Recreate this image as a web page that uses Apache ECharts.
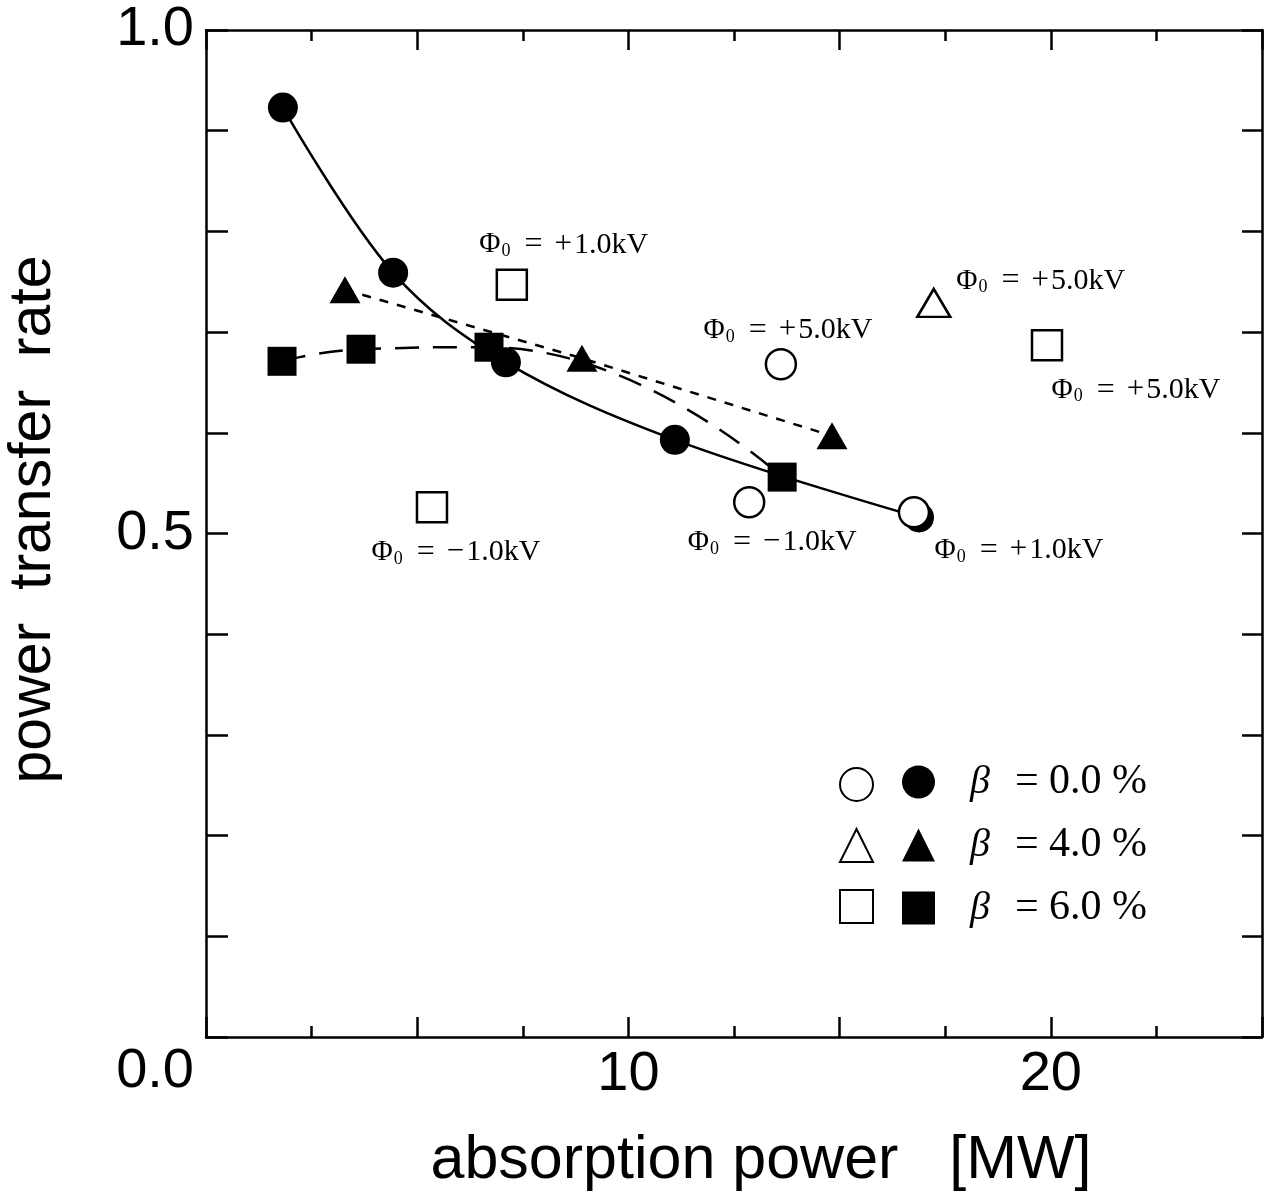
<!DOCTYPE html>
<html><head><meta charset="utf-8">
<script src="https://cdn.jsdelivr.net/npm/echarts@6/dist/echarts.min.js"></script>
<style>html,body{margin:0;padding:0;background:#fff}#c{width:1278px;height:1198px}</style>
</head><body><div id="c"></div>
<script>
// ---------- data ----------
const xTitle = 'absorption power   [MW]';
const yTitle = 'power  transfer  rate';
const xLabelValues = [10, 20];
const xLabelTexts = ['10', '20'];
const yLabelValues = [0, 0.5, 1.0];
const yLabelTexts = ['0.0', '0.5', '1.0'];

const groupNames = ['β = 0.0 %', 'β = 4.0 %', 'β = 6.0 %'];
const groupBeta = ['0.0', '4.0', '6.0'];

const fill0X = [1.82, 4.43, 7.10, 11.10, 16.88];
const fill0Y = [0.923, 0.759, 0.670, 0.593, 0.516];
const fill4X = [3.29, 8.90, 14.82];
const fill4Y = [0.742, 0.674, 0.597];
const fill6X = [1.80, 3.67, 6.70, 13.64];
const fill6Y = [0.671, 0.683, 0.685, 0.556];

const open0X = [13.61, 12.86, 16.76];
const open0Y = [0.668, 0.531, 0.521];
const open0Phi = ['+5.0', '−1.0', '+1.0'];
const open4X = [17.23];
const open4Y = [0.729];
const open4Phi = ['+5.0'];
const open6X = [7.24, 5.35, 19.91];
const open6Y = [0.747, 0.526, 0.687];
const open6Phi = ['+1.0', '−1.0', '+5.0'];

// ---------- layout / style ----------
const open0Off = [[7, -34], [23, 40], [105, 38]];
const open4Off = [[107, -22]];
const open6Off = [[52, -40], [24, 45], [89, 45]];

const SANS = '"Liberation Sans", Arial, sans-serif';
const SERIF = '"Liberation Serif", "Times New Roman", serif';
const BLACK = '#000';

const zip = (xs, ys) => xs.map((x, i) => [x, ys[i]]);
const near = (a, b) => Math.abs(a - b) < 1e-6;

const annRich = {
  p: { fontFamily: SERIF, fontSize: 29, color: BLACK, lineHeight: 32 },
  s: { fontFamily: SERIF, fontSize: 18, color: BLACK, padding: [13, 0, 0, 1], lineHeight: 32 },
  e: { fontFamily: SERIF, fontSize: 32, color: BLACK, padding: [0, 12, 0, 14], lineHeight: 32 },
  t: { fontFamily: SERIF, fontSize: 31, color: BLACK, padding: [0, 2, 0, 0], lineHeight: 32 },
  u: { fontFamily: SERIF, fontSize: 30, color: BLACK, lineHeight: 32 }
};

function openData(xs, ys, phis, offs) {
  return xs.map((x, i) => ({
    value: [x, ys[i]],
    phi: phis[i],
    label: { offset: offs[i] }
  }));
}

function openSeries(name, symbol, size, xs, ys, phis, offs) {
  return {
    name: name, type: 'scatter', symbol: symbol, symbolSize: size, z: 5,
    itemStyle: { color: '#fff', borderColor: BLACK, borderWidth: 2.5, opacity: 1 },
    data: openData(xs, ys, phis, offs),
    label: {
      show: true, position: 'inside', align: 'center', verticalAlign: 'middle', opacity: 1,
      formatter: (p) => '{p|Φ}{s|0}{e|=}{t|' + p.data.phi.charAt(0) + '}{u|' + p.data.phi.slice(1) + 'kV}',
      rich: annRich
    },
    emphasis: { disabled: true }
  };
}

function fillSeries(name, symbol, size, xs, ys, lineType, smooth) {
  return {
    name: name, type: 'line', symbol: symbol, symbolSize: size, showSymbol: true, z: 3,
    smooth: smooth,
    itemStyle: { color: BLACK, opacity: 1 },
    lineStyle: { color: BLACK, width: 2.5, type: lineType },
    data: zip(xs, ys),
    emphasis: { disabled: true }
  };
}

const openNames = groupNames.map(n => 'open ' + n);

const xLabelFmt = (v) => {
  const i = xLabelValues.findIndex(t => near(t, v));
  return i >= 0 ? xLabelTexts[i] : '';
};
const yLabelFmt = (v) => {
  const i = yLabelValues.findIndex(t => near(t, v));
  if (i < 0) return '';
  return near(v, 0) ? '{z|' + yLabelTexts[i] + '}' : yLabelTexts[i];
};

const axisLineStyle = { show: true, onZero: false, lineStyle: { color: BLACK, width: 2.5 } };
const tickStyle = { color: BLACK, width: 2.5 };

const option = {
  animation: false,
  backgroundColor: '#fff',
  grid: { left: 206, right: 16, top: 30, bottom: 161, containLabel: false, outerBoundsMode: 'none' },
  xAxis: [
    {
      type: 'value', position: 'bottom', min: 0, max: 25, interval: 5,
      axisLine: axisLineStyle,
      axisTick: { show: true, inside: true, length: 20, lineStyle: tickStyle },
      minorTick: { show: true, splitNumber: 2, length: 11, lineStyle: tickStyle },
      splitLine: { show: false },
      axisLabel: { show: true, formatter: xLabelFmt, fontFamily: SANS, fontSize: 56, color: BLACK, margin: 10 },
      name: xTitle, nameLocation: 'middle', nameGap: 94,
      nameTextStyle: { fontFamily: SANS, fontSize: 61, color: BLACK, padding: [0, 0, 0, 54] }
    },
    {
      type: 'value', position: 'top', min: 0, max: 25, interval: 5,
      axisLine: axisLineStyle,
      axisTick: { show: true, inside: true, length: 20, lineStyle: tickStyle },
      minorTick: { show: true, splitNumber: 2, length: 11, lineStyle: tickStyle },
      splitLine: { show: false },
      axisLabel: { show: false }
    }
  ],
  yAxis: [
    {
      type: 'value', position: 'left', min: 0, max: 1, interval: 0.1,
      axisLine: axisLineStyle,
      axisTick: { show: true, inside: true, length: 22, lineStyle: tickStyle },
      splitLine: { show: false },
      axisLabel: {
        show: true, formatter: yLabelFmt, fontFamily: SANS, fontSize: 56, color: BLACK, margin: 12,
        rich: { z: { fontFamily: SANS, fontSize: 56, color: BLACK, padding: [70, 0, 0, 0] } }
      },
      name: yTitle, nameLocation: 'middle', nameGap: 143, nameRotate: 90,
      nameTextStyle: { fontFamily: SANS, fontSize: 59, color: BLACK, padding: [0, 0, 0, 28] }
    },
    {
      type: 'value', position: 'right', min: 0, max: 1, interval: 0.1,
      axisLine: axisLineStyle,
      axisTick: { show: true, inside: true, length: 20, lineStyle: tickStyle },
      splitLine: { show: false },
      axisLabel: { show: false }
    }
  ],
  legend: [
    {
      orient: 'vertical', left: 839, top: 767, padding: 0,
      itemWidth: 33, itemHeight: 33, itemGap: 26,
      selectedMode: false,
      data: [
        { name: openNames[0], icon: 'circle' },
        { name: openNames[1], icon: 'triangle' },
        { name: openNames[2], icon: 'rect' }
      ],
      formatter: () => '',
      textStyle: { fontSize: 10, lineHeight: 33 }
    },
    {
      orient: 'vertical', left: 902, top: 761, padding: 0,
      itemWidth: 33, itemHeight: 33, itemGap: 21,
      selectedMode: false,
      data: [
        { name: groupNames[0], icon: 'circle' },
        { name: groupNames[1], icon: 'triangle' },
        { name: groupNames[2], icon: 'rect' }
      ],
      formatter: (n) => {
        const i = groupNames.indexOf(n);
        return '{b|β}{t|  = ' + groupBeta[i] + ' %}';
      },
      textStyle: {
        lineHeight: 33,
        rich: {
          b: { fontFamily: SERIF, fontStyle: 'italic', fontSize: 40, color: BLACK, padding: [0, 0, 0, 30], lineHeight: 33 },
          t: { fontFamily: SERIF, fontSize: 42, color: BLACK, padding: [0, 0, 0, 4], lineHeight: 33 }
        }
      }
    }
  ],
  series: [
    fillSeries(groupNames[0], 'circle', 30, fill0X, fill0Y, 'solid', 0.35),
    fillSeries(groupNames[1], 'triangle', [31, 27], fill4X, fill4Y, [9, 9], false),
    fillSeries(groupNames[2], 'rect', 29, fill6X, fill6Y, [24, 14], 0.5),
    openSeries(openNames[0], 'circle', 30, open0X, open0Y, open0Phi, open0Off),
    openSeries(openNames[1], 'triangle', [33, 28], open4X, open4Y, open4Phi, open4Off),
    openSeries(openNames[2], 'rect', 30, open6X, open6Y, open6Phi, open6Off)
  ]
};

const chart = echarts.init(document.getElementById('c'), null, { renderer: 'canvas' });
chart.setOption(option);
</script>
</body></html>
